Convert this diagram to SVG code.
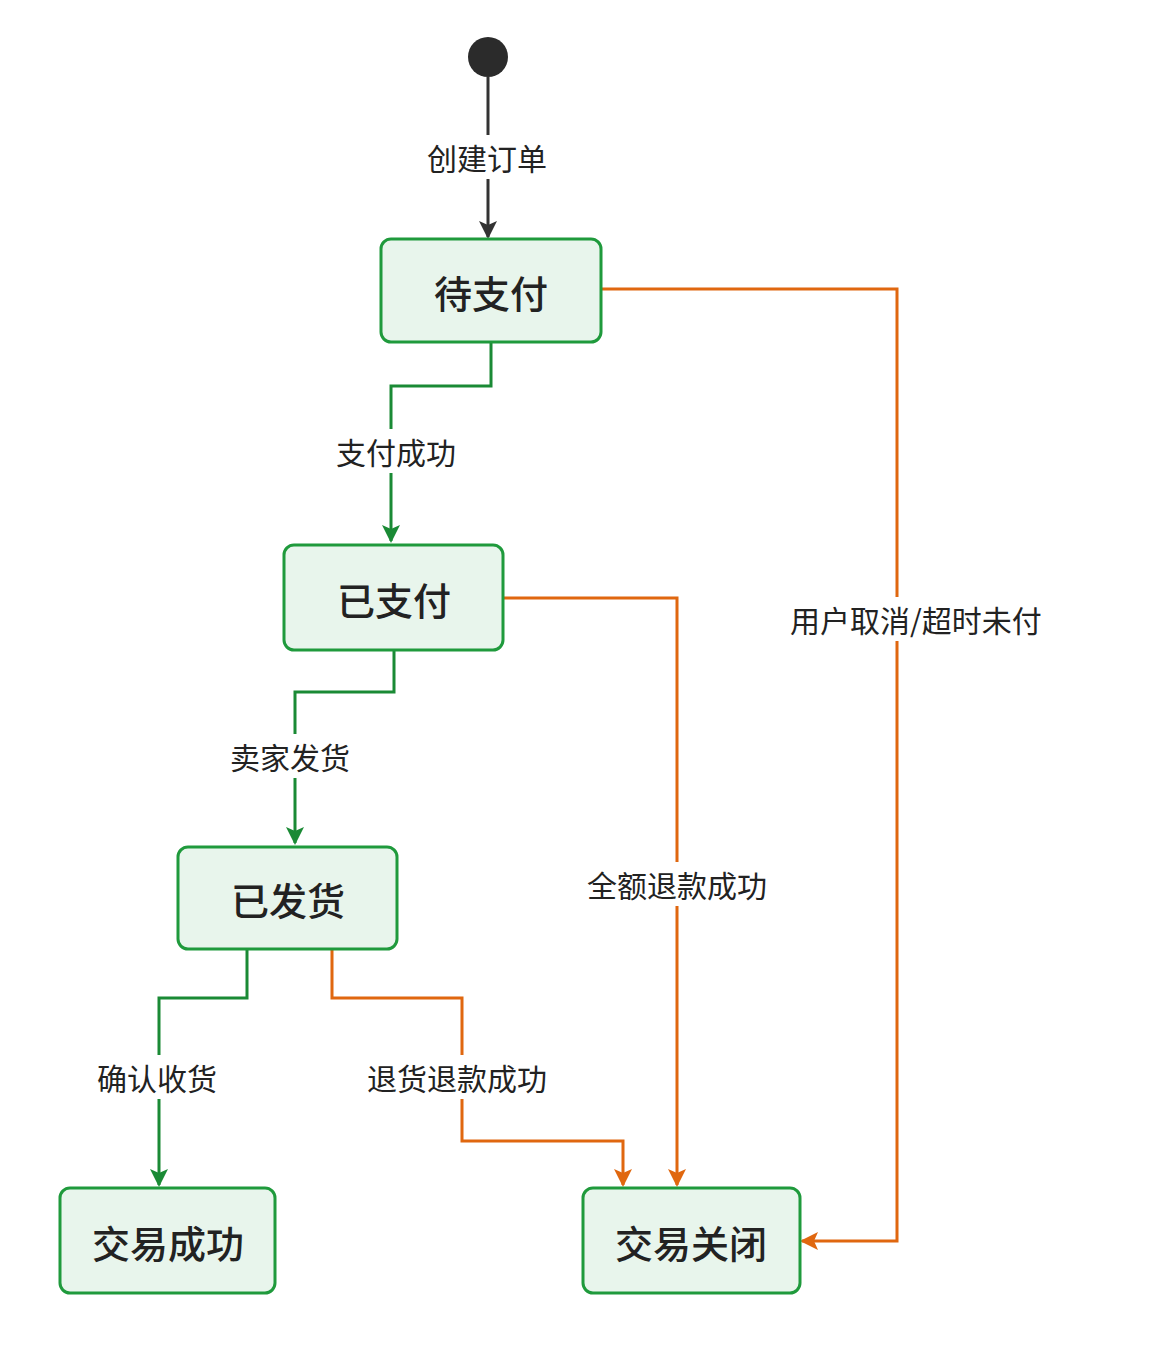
<svg xmlns="http://www.w3.org/2000/svg" width="1151" height="1367" viewBox="0 0 1151 1367">
<style>
.node rect{fill:#e8f5ec;stroke:#1f9a3c;stroke-width:3}
.node text{font-family:"Noto Sans CJK SC",sans-serif;font-size:38px;font-weight:500;fill:#222;text-anchor:middle;dominant-baseline:central}
.lbl{font-family:"Noto Sans CJK SC",sans-serif;font-size:30px;fill:#222;text-anchor:middle;dominant-baseline:central}
.bg{fill:#fff}
.g{fill:none;stroke:#1a8a35;stroke-width:3}
.o{fill:none;stroke:#e0670f;stroke-width:3}
.k{fill:none;stroke:#333;stroke-width:3}
</style>
<defs>
<marker id="ak" markerWidth="10" markerHeight="10" refX="8" refY="5" orient="auto" markerUnits="userSpaceOnUse" viewBox="0 0 10 10"><path d="M0,0L10,5L0,10z" fill="#333"/></marker>
<marker id="ag" markerWidth="18" markerHeight="18" refX="16" refY="9" orient="auto" markerUnits="userSpaceOnUse"><path d="M0,0L18,9L0,18L4,9z" fill="#1a8a35"/></marker>
<marker id="ao" markerWidth="18" markerHeight="18" refX="16" refY="9" orient="auto" markerUnits="userSpaceOnUse"><path d="M0,0L18,9L0,18L4,9z" fill="#e0670f"/></marker>
<marker id="ak2" markerWidth="18" markerHeight="18" refX="16" refY="9" orient="auto" markerUnits="userSpaceOnUse"><path d="M0,0L18,9L0,18L4,9z" fill="#333"/></marker>
</defs>
<rect width="1151" height="1367" fill="#fff"/>
<g id="connectors">
<path class="k" d="M488,77V237" marker-end="url(#ak2)"/>
<path class="g" d="M491,342V386H391V541" marker-end="url(#ag)"/>
<path class="g" d="M394,650V692H295V843" marker-end="url(#ag)"/>
<path class="g" d="M247,949V998H159V1185" marker-end="url(#ag)"/>
<path class="o" d="M332,949V998H462V1141H623V1185" marker-end="url(#ao)"/>
<path class="o" d="M503,598H677V1185" marker-end="url(#ao)"/>
<path class="o" d="M601,289H897V1241H802" marker-end="url(#ao)"/>
<rect class="bg" x="412" y="135" width="150" height="44"/><text class="lbl" x="487" y="157">创建订单</text>
<rect class="bg" x="322" y="429" width="148" height="44"/><text class="lbl" x="396" y="451">支付成功</text>
<rect class="bg" x="216" y="734" width="148" height="44"/><text class="lbl" x="290" y="756">卖家发货</text>
<rect class="bg" x="88" y="1055" width="140" height="44"/><text class="lbl" x="157" y="1077">确认收货</text>
<rect class="bg" x="360" y="1055" width="194" height="44"/><text class="lbl" x="457" y="1077">退货退款成功</text>
<rect class="bg" x="580" y="862" width="194" height="44"/><text class="lbl" x="677" y="884">全额退款成功</text>
<rect class="bg" x="784" y="597" width="264" height="44"/><text class="lbl" x="916" y="619">用户取消/超时未付</text>
</g>
<g id="start"><circle cx="488" cy="57" r="20" fill="#2b2b2b"/></g>
<g id="n1" class="node"><rect x="381" y="239" width="220" height="103" rx="10"/><text x="491" y="291">待支付</text></g>
<g id="n2" class="node"><rect x="284" y="545" width="219" height="105" rx="10"/><text x="394" y="598">已支付</text></g>
<g id="n3" class="node"><rect x="178" y="847" width="219" height="102" rx="10"/><text x="288" y="898">已发货</text></g>
<g id="n4" class="node"><rect x="60" y="1188" width="215" height="105" rx="10"/><text x="168" y="1241">交易成功</text></g>
<g id="n5" class="node"><rect x="583" y="1188" width="217" height="105" rx="10"/><text x="691" y="1241">交易关闭</text></g>
</svg>
